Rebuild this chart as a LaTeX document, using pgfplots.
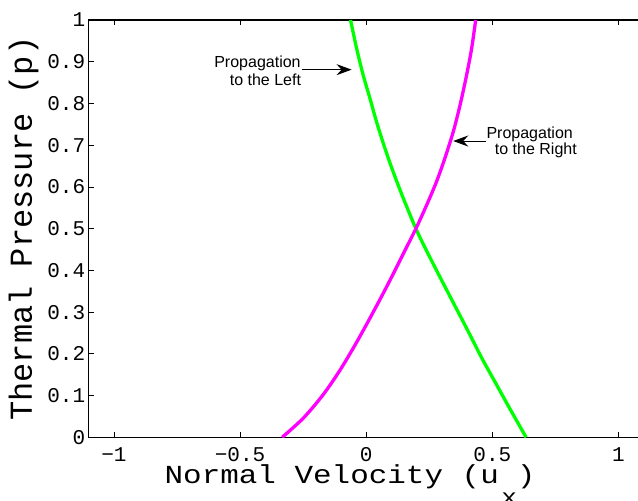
\documentclass[border=0pt]{standalone}
\usepackage{pgfplots}
\pgfplotsset{compat=1.18}
\usepackage{fontspec}
\setmainfont{Liberation Sans}
\newfontfamily\monofont{Liberation Mono}
\usetikzlibrary{arrows.meta}

\definecolor{leftwave}{RGB}{0,255,0}
\definecolor{rightwave}{RGB}{255,0,255}

\begin{document}
\begin{tikzpicture}
\begin{axis}[
  name=ax,
  scale only axis,
  width=555pt, height=417.3pt,
  xmin=-1.1, xmax=1.1, ymin=0, ymax=1,
  xtick={-1,-0.5,0,0.5,1},
  xticklabels={−1,−0.5,0,0.5,1},
  ytick={0,0.1,0.2,0.3,0.4,0.5,0.6,0.7,0.8,0.9,1},
  yticklabels={0,0.1,0.2,0.3,0.4,0.5,0.6,0.7,0.8,0.9,1},
  tick align=inside,
  tick pos=both,
  major tick length=5pt,
  tick style={black, line width=0.8pt},
  axis line style={black, line width=1.2pt},
  tick label style={font=\monofont\fontsize{21}{21}\selectfont},
  xticklabel style={yshift=-7pt},
  xlabel={\scalebox{1.19}[1]{Normal Velocity (u\hspace{2pt}\raisebox{-0.8em}{\fontsize{22}{22}\selectfont x})}},
  ylabel={Thermal Pressure (p)},
  xlabel style={font=\monofont\fontsize{26}{26}\selectfont,
    at={(axis description cs:0.471,0)}, anchor=base, yshift=-46pt},
  ylabel style={font=\monofont\fontsize{32}{32}\selectfont,
    at={(axis description cs:-0.1022,0.5)}, anchor=base},
]
% wave curve of the left-propagating family
\addplot[leftwave, line width=3.3pt, smooth] coordinates {
  (0.634,0) (0.569,0.069) (0.514,0.129) (0.459,0.189) (0.405,0.253)
  (0.350,0.317) (0.295,0.381) (0.241,0.445) (0.197,0.500) (0.147,0.573)
  (0.107,0.636) (0.074,0.693) (0.041,0.756) (0.015,0.812) (-0.012,0.868)
  (-0.038,0.932) (-0.062,1.0)
};
% wave curve of the right-propagating family
\addplot[rightwave, line width=3.3pt, smooth] coordinates {
  (-0.333,0) (-0.250,0.0455) (-0.172,0.101) (-0.108,0.157) (-0.052,0.213)
  (0.000,0.269) (0.057,0.333) (0.105,0.389) (0.158,0.453) (0.197,0.500)
  (0.240,0.557) (0.279,0.613) (0.312,0.669) (0.345,0.732) (0.372,0.796)
  (0.398,0.868) (0.418,0.932) (0.434,1.0)
};
% annotations
\draw[-{Stealth[length=15pt,width=11pt,inset=5pt]}, line width=0.9pt]
  (axis cs:-0.255,0.881) -- (axis cs:-0.058,0.881);
\node[font=\fontsize{16}{16}\selectfont, anchor=base] at (axis cs:-0.431,0.887) {Propagation};
\node[font=\fontsize{16}{16}\selectfont, anchor=base] at (axis cs:-0.3995,0.844) {to the Left};
\draw[-{Stealth[length=15pt,width=11pt,inset=5pt]}, line width=0.9pt]
  (axis cs:0.474,0.710) -- (axis cs:0.345,0.710);
\node[font=\fontsize{16}{16}\selectfont, anchor=base] at (axis cs:0.648,0.7165) {Propagation};
\node[font=\fontsize{16}{16}\selectfont, anchor=base] at (axis cs:0.6726,0.678) {to the Right};
\end{axis}
\pgfresetboundingbox
\path[use as bounding box] ([xshift=-88.7pt,yshift=-63.7pt]ax.south west)
  rectangle ([xshift=549.3pt,yshift=20pt]ax.north west);
\end{tikzpicture}
\end{document}
